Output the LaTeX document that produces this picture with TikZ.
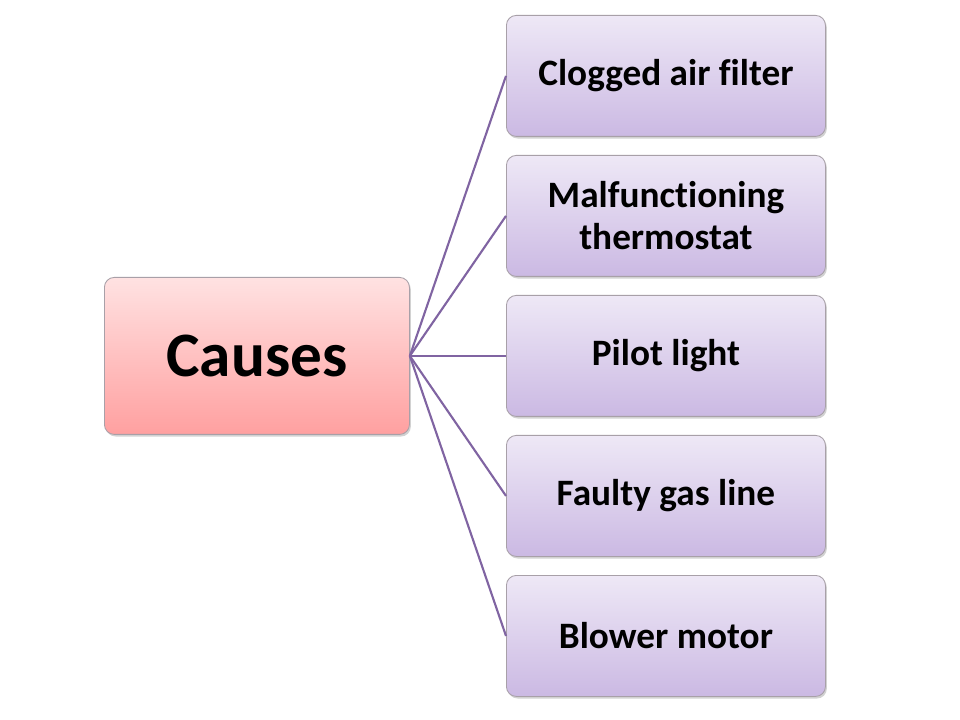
\documentclass[tikz,border=0pt]{standalone}
\usepackage{fontspec}
\setmainfont[Ligatures=NoCommon]{Carlito}
\usetikzlibrary{shadows}
\definecolor{linec}{HTML}{8064A2}
\definecolor{pinktop}{HTML}{FFE2E2}
\definecolor{pinkbot}{HTML}{FFA0A0}
\definecolor{purtop}{HTML}{EEE8F6}
\definecolor{purbot}{HTML}{CBB9E3}
\definecolor{boxborder}{HTML}{A8A0A8}
\tikzset{
  box/.style={draw=boxborder, line width=0.6pt, rounded corners=7pt, anchor=north west,
    drop shadow={shadow xshift=1pt, shadow yshift=-1.5pt, opacity=0.35},
    font=\bfseries, align=center, inner sep=0pt},
  causebox/.style={box, top color=pinktop, bottom color=pinkbot,
    minimum width=305*0.025cm, minimum height=157*0.025cm, font=\bfseries\fontsize{45}{50}\selectfont},
  itembox/.style={box, top color=purtop, bottom color=purbot,
    minimum width=319*0.025cm, minimum height=121*0.025cm, font=\bfseries\fontsize{26.5}{30}\selectfont},
  conn/.style={draw=linec, line width=1.5pt}
}
\begin{document}
\begin{tikzpicture}[x=0.025cm,y=-0.025cm]
\useasboundingbox[fill=white] (0,0) rectangle (960,720);
\node[causebox] (c) at (104,277) {Causes};
\node[itembox] (a1) at (506,15) {Clogged air filter};
\node[itembox] (a2) at (506,155) {Malfunctioning\\thermostat};
\node[itembox] (a3) at (506,295) {Pilot light};
\node[itembox] (a4) at (506,435) {Faulty gas line};
\node[itembox] (a5) at (506,575) {Blower motor};
\foreach \n in {a1,a2,a3,a4,a5}
  \draw[conn] (c.east) -- (\n.west);
\end{tikzpicture}
\end{document}
